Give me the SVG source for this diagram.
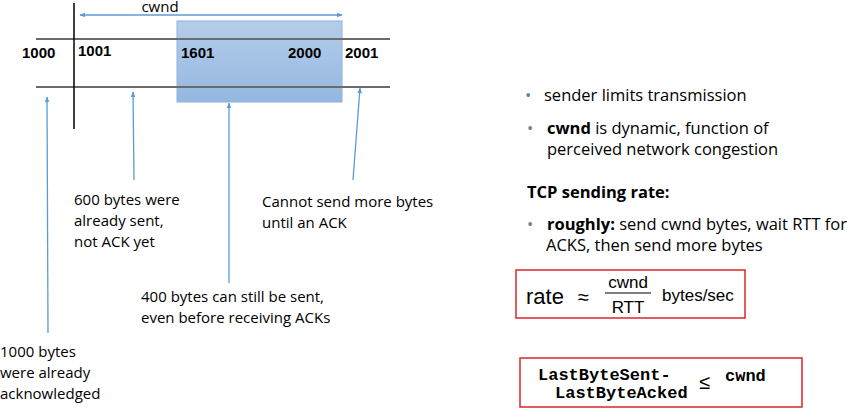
<svg xmlns="http://www.w3.org/2000/svg" width="854" height="420" viewBox="0 0 854 420">
<defs>
<linearGradient id="g" x1="0" y1="0" x2="0" y2="1"><stop offset="0" stop-color="#b4cdea"/><stop offset="1" stop-color="#94b8e1"/></linearGradient>
<marker id="ah" viewBox="0 0 10 10" refX="9" refY="5" markerWidth="6" markerHeight="6" orient="auto-start-reverse" markerUnits="userSpaceOnUse"><path d="M0,1 L10,5 L0,9 Z" fill="#5b9bd5"/></marker>
<style>
.t{font-family:"Open Sans","Liberation Sans",sans-serif;font-size:15px;fill:#000}
.n{font-family:"Liberation Sans",Arial,sans-serif;font-size:15px;font-weight:bold;fill:#000}
.r{font-family:"Open Sans","Liberation Sans",sans-serif;font-size:16.5px;fill:#000}
.b{font-weight:bold}
.bl{fill:#5b7fa6}
.m{font-family:"Liberation Mono","Courier New",monospace;font-size:17px;font-weight:bold;fill:#000}
.f{font-family:"Liberation Sans",Arial,sans-serif;fill:#000}
.c{stroke:#5b9bd5;stroke-width:1.3;fill:none;marker-end:url(#ah)}
.box{fill:#fff;stroke:#d9262b;stroke-width:1.5}
</style>
</defs>
<g id="window">
<rect x="177" y="21" width="165" height="81" fill="url(#g)" stroke="#8db2df" stroke-width="1"/>
<line x1="36" y1="39" x2="390" y2="39" stroke="#6b6b6b" stroke-width="1.8"/>
<line x1="36" y1="87" x2="390" y2="87" stroke="#6b6b6b" stroke-width="1.8"/>
<line x1="74" y1="3" x2="74" y2="129" stroke="#000" stroke-width="1.5"/>
<text class="n" x="22" y="58">1000</text>
<text class="n" x="78" y="56">1001</text>
<text class="n" x="181" y="58">1601</text>
<text class="n" x="288" y="58">2000</text>
<text class="n" x="345" y="58">2001</text>
<text class="t" x="160" y="12" text-anchor="middle">cwnd</text>
</g>
<g id="connectors">
<line class="c" x1="80" y1="15" x2="342" y2="15" style="marker-start:url(#ah)"/>
<line class="c" x1="48" y1="333" x2="47" y2="97"/>
<line class="c" x1="134" y1="180" x2="133" y2="92"/>
<line class="c" x1="229" y1="283" x2="229" y2="103"/>
<line class="c" x1="353" y1="180" x2="360" y2="88"/>
</g>
<g id="labels">
<text class="t" x="74" y="205">600 bytes were<tspan x="74" dy="21">already sent,</tspan><tspan x="74" dy="21">not ACK yet</tspan></text>
<text class="t" x="262" y="207">Cannot send more bytes<tspan x="262" dy="21">until an ACK</tspan></text>
<text class="t" x="141" y="302">400 bytes can still be sent,<tspan x="141" dy="21">even before receiving ACKs</tspan></text>
<text class="t" x="0" y="357">1000 bytes<tspan x="0" dy="21">were already</tspan><tspan x="0" dy="21">acknowledged</tspan></text>
</g>
<g id="notes">
<text class="r bl" x="525" y="101">•</text>
<text class="r" x="544" y="101">sender limits transmission</text>
<text class="r bl" x="527" y="134">•</text>
<text class="r" x="547" y="134"><tspan class="b">cwnd</tspan> is dynamic, function of</text>
<text class="r" x="547" y="155">perceived network congestion</text>
<text class="r b" x="527" y="198">TCP sending rate:</text>
<text class="r bl" x="527" y="230">•</text>
<text class="r" x="547" y="230"><tspan class="b">roughly:</tspan> send cwnd bytes, wait RTT for</text>
<text class="r" x="546" y="251">ACKS, then send more bytes</text>
</g>
<g id="rate-box">
<rect class="box" x="516" y="270" width="229" height="48"/>
<text class="f" x="526" y="304" font-size="22">rate</text>
<text class="f" x="578" y="304" font-size="20">≈</text>
<text class="f" x="628" y="288" font-size="17" text-anchor="middle">cwnd</text>
<line x1="605" y1="293" x2="651" y2="293" stroke="#000" stroke-width="1.2"/>
<text class="f" x="628" y="313" font-size="17" text-anchor="middle">RTT</text>
<text class="f" x="662" y="301" font-size="17">bytes/sec</text>
</g>
<g id="limit-box">
<rect class="box" x="520" y="358" width="282" height="49"/>
<text class="m" x="538" y="380">LastByteSent-</text>
<text class="m" x="555" y="398">LastByteAcked</text>
<text class="f" x="699" y="389" font-size="20">≤</text>
<text class="m" x="725" y="381">cwnd</text>
</g>
</svg>
